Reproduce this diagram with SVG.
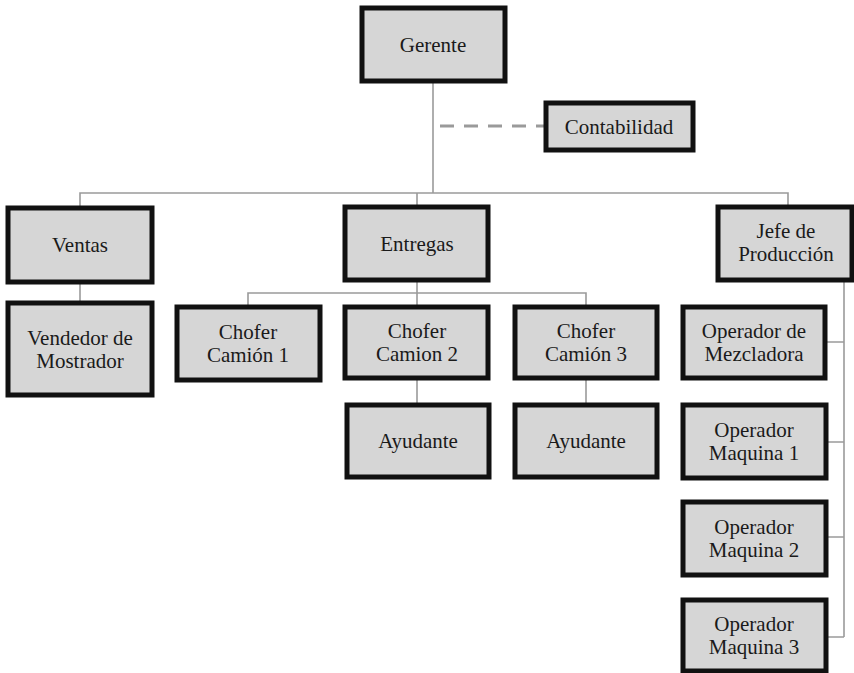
<svg xmlns="http://www.w3.org/2000/svg" width="854" height="673" viewBox="0 0 854 673">
<style>
.box{fill:#d6d6d6;stroke:#111;stroke-width:5;}
.t{font-family:"Liberation Serif","Times New Roman",serif;font-size:21px;fill:#1a1a1a;text-anchor:middle;}
.ln{stroke:#9a9a9a;stroke-width:1.6;fill:none;}
.dash{stroke:#9a9a9a;stroke-width:3;stroke-dasharray:14 10;fill:none;}
</style>
<rect width="854" height="673" fill="#fff"/>
<g id="connectors">
<path class="ln" d="M433,81 V193"/>
<path class="dash" d="M440,126 H546"/>
<path class="ln" d="M80,208 V193 H788 V207"/>
<path class="ln" d="M417,193 V207"/>
<path class="ln" d="M80,282 V303"/>
<path class="ln" d="M417,280 V307"/>
<path class="ln" d="M248,307 V293 H586 V307"/>
<path class="ln" d="M417,378 V405"/>
<path class="ln" d="M586,378 V405"/>
<path class="ln" d="M844,280 V637"/>
<path class="ln" d="M826,342 H844 M826,442 H844 M826,537 H844 M826,637 H844"/>
</g>
<g id="gerente"><rect class="box" x="362" y="8" width="143" height="73"/><text class="t" x="433" y="52">Gerente</text></g>
<g id="contabilidad"><rect class="box" x="546" y="103" width="147" height="47"/><text class="t" x="619" y="134">Contabilidad</text></g>
<g id="ventas"><rect class="box" x="8" y="208" width="144" height="74"/><text class="t" x="80" y="252">Ventas</text></g>
<g id="vendedor"><rect class="box" x="8" y="303" width="144" height="92"/><text class="t" x="80" y="345">Vendedor de</text><text class="t" x="80" y="368">Mostrador</text></g>
<g id="entregas"><rect class="box" x="345" y="207" width="143" height="73"/><text class="t" x="417" y="251">Entregas</text></g>
<g id="chofer1"><rect class="box" x="177" y="307" width="143" height="73"/><text class="t" x="248" y="339">Chofer</text><text class="t" x="248" y="362">Camión 1</text></g>
<g id="chofer2"><rect class="box" x="345" y="307" width="143" height="71"/><text class="t" x="417" y="338">Chofer</text><text class="t" x="417" y="361">Camion 2</text></g>
<g id="chofer3"><rect class="box" x="515" y="307" width="142" height="71"/><text class="t" x="586" y="338">Chofer</text><text class="t" x="586" y="361">Camión 3</text></g>
<g id="ayudante1"><rect class="box" x="347" y="405" width="142" height="72"/><text class="t" x="418" y="448">Ayudante</text></g>
<g id="ayudante2"><rect class="box" x="515" y="405" width="142" height="72"/><text class="t" x="586" y="448">Ayudante</text></g>
<g id="jefe"><rect class="box" x="718" y="207" width="134" height="73"/><text class="t" x="786" y="238">Jefe de</text><text class="t" x="786" y="261">Producción</text></g>
<g id="mezcladora"><rect class="box" x="683" y="307" width="142" height="71"/><text class="t" x="754" y="338">Operador de</text><text class="t" x="754" y="361">Mezcladora</text></g>
<g id="maquina1"><rect class="box" x="683" y="405" width="143" height="73"/><text class="t" x="754" y="437">Operador</text><text class="t" x="754" y="460">Maquina 1</text></g>
<g id="maquina2"><rect class="box" x="683" y="502" width="143" height="73"/><text class="t" x="754" y="534">Operador</text><text class="t" x="754" y="557">Maquina 2</text></g>
<g id="maquina3"><rect class="box" x="683" y="600" width="143" height="71"/><text class="t" x="754" y="631">Operador</text><text class="t" x="754" y="654">Maquina 3</text></g>
</svg>
